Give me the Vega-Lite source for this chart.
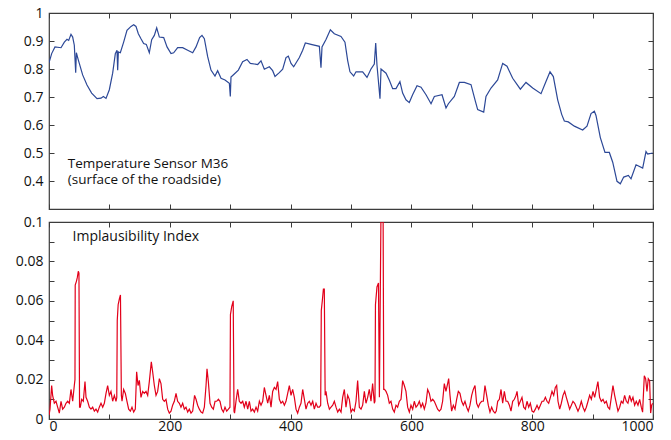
{
  "$schema": "https://vega.github.io/schema/vega-lite/v6.json",
  "padding": {"left": 14, "top": 5, "right": 5, "bottom": 5},
  "background": "white",
  "config": {
    "view": {"stroke": "#3c3c3c", "strokeWidth": 1.2},
    "font": "Open Sans",
    "axis": {"domain": false, "grid": false, "tickSize": -5, "tickColor": "#3c3c3c", "tickWidth": 1, "labelFont": "Open Sans", "labelFontSize": 14, "labelColor": "#111111", "title": null}
  },
  "datasets": {
    "temp": [
      {"t":0,"v":0.822},{"t":4.4,"v":0.855},{"t":9.9,"v":0.879},{"t":19.9,"v":0.876},{"t":25.4,"v":0.896},{"t":29.8,"v":0.906},{"t":32.6,"v":0.902},{"t":36.4,"v":0.924},{"t":39.2,"v":0.914},{"t":41.9,"v":0.885},{"t":44.2,"v":0.787},{"t":45.3,"v":0.858},{"t":48.6,"v":0.832},{"t":55.7,"v":0.779},{"t":62.9,"v":0.743},{"t":70.6,"v":0.714},{"t":79.5,"v":0.694},{"t":86.1,"v":0.696},{"t":90,"v":0.702},{"t":94.4,"v":0.695},{"t":99.9,"v":0.726},{"t":105.4,"v":0.785},{"t":109.8,"v":0.855},{"t":112.6,"v":0.867},{"t":113.7,"v":0.796},{"t":114.8,"v":0.861},{"t":118.1,"v":0.858},{"t":123.6,"v":0.896},{"t":129.1,"v":0.938},{"t":135.8,"v":0.952},{"t":140.2,"v":0.958},{"t":144,"v":0.952},{"t":147.9,"v":0.926},{"t":152.3,"v":0.908},{"t":156.7,"v":0.891},{"t":161.1,"v":0.888},{"t":166.1,"v":0.858},{"t":170,"v":0.905},{"t":174.4,"v":0.92},{"t":178.3,"v":0.947},{"t":182.7,"v":0.914},{"t":189.9,"v":0.912},{"t":195.4,"v":0.879},{"t":202,"v":0.855},{"t":206.4,"v":0.858},{"t":213,"v":0.876},{"t":221.3,"v":0.876},{"t":229.6,"v":0.867},{"t":237.9,"v":0.858},{"t":243.4,"v":0.879},{"t":249.4,"v":0.912},{"t":253.3,"v":0.92},{"t":257.2,"v":0.908},{"t":262.7,"v":0.844},{"t":268.2,"v":0.796},{"t":274.8,"v":0.775},{"t":279.2,"v":0.794},{"t":284.8,"v":0.767},{"t":291.4,"v":0.761},{"t":298.6,"v":0.749},{"t":300.2,"v":0.702},{"t":301.3,"v":0.771},{"t":306.8,"v":0.782},{"t":313.5,"v":0.796},{"t":320.6,"v":0.826},{"t":327.8,"v":0.834},{"t":333.3,"v":0.82},{"t":345.5,"v":0.816},{"t":351,"v":0.829},{"t":356.5,"v":0.799},{"t":364.8,"v":0.808},{"t":370.3,"v":0.794},{"t":374.2,"v":0.773},{"t":381.3,"v":0.787},{"t":386.9,"v":0.799},{"t":392.4,"v":0.841},{"t":396.2,"v":0.846},{"t":400.7,"v":0.82},{"t":405.1,"v":0.808},{"t":414.5,"v":0.841},{"t":420,"v":0.867},{"t":424.4,"v":0.893},{"t":433.8,"v":0.888},{"t":447.6,"v":0.881},{"t":450.3,"v":0.805},{"t":452,"v":0.879},{"t":458.6,"v":0.905},{"t":465.8,"v":0.94},{"t":472.4,"v":0.926},{"t":483.4,"v":0.916},{"t":490,"v":0.896},{"t":494.5,"v":0.83},{"t":498.3,"v":0.79},{"t":504.4,"v":0.775},{"t":508.3,"v":0.79},{"t":519.3,"v":0.79},{"t":526.5,"v":0.77},{"t":533.1,"v":0.8},{"t":538.6,"v":0.818},{"t":540.9,"v":0.893},{"t":543,"v":0.814},{"t":548,"v":0.694},{"t":549.7,"v":0.8},{"t":558,"v":0.785},{"t":563.5,"v":0.76},{"t":569,"v":0.73},{"t":574.5,"v":0.73},{"t":581,"v":0.755},{"t":585.5,"v":0.714},{"t":591,"v":0.69},{"t":596.5,"v":0.68},{"t":602,"v":0.708},{"t":609.3,"v":0.74},{"t":615.9,"v":0.735},{"t":624.2,"v":0.708},{"t":632.5,"v":0.676},{"t":638,"v":0.702},{"t":650.7,"v":0.708},{"t":657.3,"v":0.661},{"t":661.2,"v":0.676},{"t":671.1,"v":0.702},{"t":679.4,"v":0.752},{"t":687.7,"v":0.752},{"t":698.7,"v":0.744},{"t":705.3,"v":0.69},{"t":709.7,"v":0.655},{"t":719.7,"v":0.646},{"t":723.5,"v":0.702},{"t":731.8,"v":0.732},{"t":742.8,"v":0.761},{"t":751.1,"v":0.82},{"t":758.3,"v":0.81},{"t":767.7,"v":0.767},{"t":780.4,"v":0.728},{"t":789.7,"v":0.752},{"t":800.8,"v":0.732},{"t":814.6,"v":0.712},{"t":822.8,"v":0.755},{"t":829.5,"v":0.79},{"t":835,"v":0.773},{"t":842.2,"v":0.69},{"t":848.8,"v":0.638},{"t":853.2,"v":0.614},{"t":859.8,"v":0.611},{"t":869.8,"v":0.596},{"t":883.6,"v":0.582},{"t":890.7,"v":0.596},{"t":897.4,"v":0.641},{"t":902.9,"v":0.649},{"t":905.6,"v":0.634},{"t":912.8,"v":0.555},{"t":920.5,"v":0.502},{"t":927.7,"v":0.502},{"t":933.3,"v":0.467},{"t":940.4,"v":0.399},{"t":945.9,"v":0.39},{"t":951.5,"v":0.414},{"t":959.2,"v":0.42},{"t":963.6,"v":0.408},{"t":971.9,"v":0.458},{"t":982.9,"v":0.446},{"t":988.4,"v":0.505},{"t":991.2,"v":0.496},{"t":999.5,"v":0.5}
    ],
    "idx": [
      {"t":0,"v":0.002},{"t":1.7,"v":0.005},{"t":4.4,"v":0.017},{"t":6,"v":0.012},{"t":8.8,"v":0.008},{"t":11.6,"v":0.009},{"t":14.3,"v":0.006},{"t":17.1,"v":0.003},{"t":19.9,"v":0.009},{"t":22.6,"v":0.005},{"t":25.4,"v":0.006},{"t":28.1,"v":0.008},{"t":30.9,"v":0.009},{"t":33.7,"v":0.008},{"t":36.4,"v":0.015},{"t":39.2,"v":0.009},{"t":41.9,"v":0.017},{"t":43,"v":0.02},{"t":43.4,"v":0.068},{"t":45.5,"v":0.07},{"t":47,"v":0.072},{"t":48.5,"v":0.075},{"t":49.6,"v":0.074},{"t":50.6,"v":0.006},{"t":51.8,"v":0.006},{"t":54.1,"v":0.01},{"t":56.8,"v":0.009},{"t":59.6,"v":0.019},{"t":61.3,"v":0.011},{"t":64,"v":0.009},{"t":66.8,"v":0.006},{"t":69.5,"v":0.005},{"t":72.3,"v":0.006},{"t":75.1,"v":0.004},{"t":77.8,"v":0.005},{"t":80.6,"v":0.0035},{"t":83.3,"v":0.006},{"t":86.1,"v":0.008},{"t":88.9,"v":0.006},{"t":91.6,"v":0.008},{"t":94.4,"v":0.013},{"t":97.1,"v":0.017},{"t":99.9,"v":0.012},{"t":102.6,"v":0.014},{"t":105.4,"v":0.009},{"t":108.2,"v":0.012},{"t":110.9,"v":0.009},{"t":112.2,"v":0.011},{"t":113,"v":0.05},{"t":114.5,"v":0.058},{"t":116.5,"v":0.061},{"t":118.3,"v":0.063},{"t":119.8,"v":0.012},{"t":120.9,"v":0.009},{"t":123.6,"v":0.015},{"t":126.4,"v":0.013},{"t":129.1,"v":0.009},{"t":131.9,"v":0.005},{"t":134.7,"v":0.004},{"t":137.4,"v":0.006},{"t":140.2,"v":0.0035},{"t":142.9,"v":0.005},{"t":145.1,"v":0.024},{"t":147.4,"v":0.017},{"t":149.6,"v":0.0196},{"t":152.3,"v":0.011},{"t":155.1,"v":0.014},{"t":157.8,"v":0.013},{"t":160.6,"v":0.014},{"t":163.4,"v":0.012},{"t":166.1,"v":0.019},{"t":169.4,"v":0.029},{"t":171.6,"v":0.024},{"t":174.4,"v":0.017},{"t":177.2,"v":0.012},{"t":179.9,"v":0.014},{"t":182.7,"v":0.0205},{"t":185.4,"v":0.018},{"t":188.2,"v":0.01},{"t":190.9,"v":0.009},{"t":193.7,"v":0.01},{"t":196.5,"v":0.005},{"t":199.2,"v":0.003},{"t":202,"v":0.004},{"t":204.7,"v":0.007},{"t":207.5,"v":0.009},{"t":210.3,"v":0.013},{"t":213,"v":0.009},{"t":215.8,"v":0.008},{"t":218.5,"v":0.006},{"t":221.3,"v":0.008},{"t":224.1,"v":0.005},{"t":226.8,"v":0.006},{"t":229.6,"v":0.0035},{"t":232.3,"v":0.005},{"t":235.1,"v":0.003},{"t":237.9,"v":0.004},{"t":241,"v":0.012},{"t":243.4,"v":0.01},{"t":246.1,"v":0.007},{"t":248.9,"v":0.005},{"t":251.7,"v":0.0035},{"t":254.4,"v":0.003},{"t":257.2,"v":0.006},{"t":260,"v":0.017},{"t":261.6,"v":0.0255},{"t":263.8,"v":0.019},{"t":266.6,"v":0.008},{"t":269.3,"v":0.006},{"t":272.1,"v":0.005},{"t":274.9,"v":0.009},{"t":277.6,"v":0.009},{"t":280.4,"v":0.01},{"t":283.1,"v":0.009},{"t":285.9,"v":0.005},{"t":288.7,"v":0.0035},{"t":291.4,"v":0.006},{"t":294.2,"v":0.004},{"t":297,"v":0.005},{"t":299.6,"v":0.006},{"t":300.4,"v":0.053},{"t":302.5,"v":0.057},{"t":305,"v":0.06},{"t":306.3,"v":0.004},{"t":307.2,"v":0.003},{"t":309.6,"v":0.009},{"t":312.4,"v":0.015},{"t":315.1,"v":0.009},{"t":317.9,"v":0.008},{"t":320.7,"v":0.009},{"t":323.4,"v":0.006},{"t":326.2,"v":0.009},{"t":329,"v":0.005},{"t":331.7,"v":0.009},{"t":334.5,"v":0.004},{"t":337.2,"v":0.005},{"t":340,"v":0.0035},{"t":342.8,"v":0.006},{"t":345.5,"v":0.004},{"t":348.3,"v":0.009},{"t":351,"v":0.007},{"t":353.8,"v":0.009},{"t":356.5,"v":0.016},{"t":359.3,"v":0.012},{"t":362.1,"v":0.008},{"t":364.8,"v":0.012},{"t":367.6,"v":0.006},{"t":370.3,"v":0.014},{"t":373.1,"v":0.016},{"t":375.9,"v":0.015},{"t":378.6,"v":0.019},{"t":381.4,"v":0.01},{"t":384.1,"v":0.008},{"t":386.9,"v":0.009},{"t":389.7,"v":0.007},{"t":392.4,"v":0.009},{"t":395.2,"v":0.013},{"t":397.9,"v":0.017},{"t":400.7,"v":0.012},{"t":403.4,"v":0.015},{"t":406.2,"v":0.011},{"t":409,"v":0.005},{"t":411.7,"v":0.003},{"t":414.5,"v":0.006},{"t":417.2,"v":0.008},{"t":420,"v":0.015},{"t":422.8,"v":0.01},{"t":425.5,"v":0.005},{"t":428.3,"v":0.008},{"t":431,"v":0.009},{"t":433.8,"v":0.007},{"t":436.6,"v":0.009},{"t":439.3,"v":0.005},{"t":442.1,"v":0.008},{"t":444.8,"v":0.006},{"t":447.6,"v":0.006},{"t":449.8,"v":0.007},{"t":450.8,"v":0.055},{"t":452.5,"v":0.06},{"t":454.3,"v":0.066},{"t":455.8,"v":0.066},{"t":457.2,"v":0.012},{"t":458.6,"v":0.014},{"t":461.4,"v":0.008},{"t":464.2,"v":0.005},{"t":466.9,"v":0.006},{"t":469.7,"v":0.007},{"t":472.4,"v":0.009},{"t":475.2,"v":0.006},{"t":478,"v":0.0035},{"t":480.7,"v":0.005},{"t":483.5,"v":0.0035},{"t":486.2,"v":0.011},{"t":489,"v":0.015},{"t":491.7,"v":0.006},{"t":494.5,"v":0.012},{"t":497.2,"v":0.01},{"t":500,"v":0.0035},{"t":502.7,"v":0.005},{"t":505.5,"v":0.004},{"t":508.3,"v":0.009},{"t":511,"v":0.0195},{"t":513.8,"v":0.006},{"t":516.6,"v":0.005},{"t":519.3,"v":0.007},{"t":522.1,"v":0.014},{"t":524.8,"v":0.008},{"t":527.6,"v":0.011},{"t":530.3,"v":0.015},{"t":533.1,"v":0.009},{"t":535.8,"v":0.018},{"t":538.6,"v":0.008},{"t":539.7,"v":0.009},{"t":540.5,"v":0.058},{"t":543,"v":0.067},{"t":545.5,"v":0.069},{"t":547,"v":0.011},{"t":549.5,"v":0.1},{"t":553.2,"v":0.1},{"t":554.2,"v":0.015},{"t":555.5,"v":0.015},{"t":558,"v":0.014},{"t":560.7,"v":0.012},{"t":563.4,"v":0.008},{"t":566.2,"v":0.009},{"t":569,"v":0.005},{"t":571.7,"v":0.0035},{"t":574.5,"v":0.007},{"t":577.2,"v":0.006},{"t":580,"v":0.009},{"t":582.8,"v":0.01},{"t":585.5,"v":0.0195},{"t":588.3,"v":0.017},{"t":591,"v":0.014},{"t":593.8,"v":0.006},{"t":596.6,"v":0.0035},{"t":599.3,"v":0.007},{"t":602.1,"v":0.005},{"t":604.8,"v":0.009},{"t":607.6,"v":0.006},{"t":610.3,"v":0.007},{"t":613.1,"v":0.009},{"t":615.9,"v":0.006},{"t":618.6,"v":0.008},{"t":621.4,"v":0.005},{"t":624.1,"v":0.008},{"t":626.9,"v":0.015},{"t":629.7,"v":0.013},{"t":632.4,"v":0.009},{"t":635.2,"v":0.01},{"t":637.9,"v":0.009},{"t":640.7,"v":0.007},{"t":643.4,"v":0.005},{"t":646.2,"v":0.004},{"t":649,"v":0.005},{"t":651.7,"v":0.009},{"t":654.5,"v":0.018},{"t":657.2,"v":0.014},{"t":660,"v":0.018},{"t":661.7,"v":0.0205},{"t":663.9,"v":0.012},{"t":666.6,"v":0.004},{"t":669.4,"v":0.007},{"t":672.2,"v":0.005},{"t":674.9,"v":0.01},{"t":677.7,"v":0.014},{"t":680.4,"v":0.013},{"t":683.2,"v":0.009},{"t":686,"v":0.007},{"t":688.7,"v":0.009},{"t":691.5,"v":0.006},{"t":694.2,"v":0.004},{"t":697,"v":0.007},{"t":699.8,"v":0.012},{"t":702.5,"v":0.015},{"t":705.3,"v":0.017},{"t":708,"v":0.008},{"t":710.8,"v":0.006},{"t":713.5,"v":0.008},{"t":716.3,"v":0.009},{"t":719.1,"v":0.009},{"t":721.8,"v":0.017},{"t":724.6,"v":0.012},{"t":727.3,"v":0.007},{"t":730.1,"v":0.0035},{"t":732.9,"v":0.006},{"t":735.6,"v":0.004},{"t":738.4,"v":0.003},{"t":740.5,"v":0.004},{"t":742.9,"v":0.009},{"t":745.6,"v":0.01},{"t":748.4,"v":0.015},{"t":751.1,"v":0.008},{"t":753.9,"v":0.014},{"t":756.7,"v":0.009},{"t":759.4,"v":0.009},{"t":762.2,"v":0.007},{"t":764.9,"v":0.004},{"t":767.7,"v":0.009},{"t":770.5,"v":0.01},{"t":773.2,"v":0.012},{"t":774.9,"v":0.014},{"t":777.6,"v":0.007},{"t":780.4,"v":0.009},{"t":783.1,"v":0.011},{"t":785.9,"v":0.006},{"t":788.7,"v":0.005},{"t":791.4,"v":0.009},{"t":794.2,"v":0.006},{"t":796.9,"v":0.008},{"t":799.7,"v":0.004},{"t":802.5,"v":0.0035},{"t":805.2,"v":0.005},{"t":808,"v":0.007},{"t":810.7,"v":0.005},{"t":813.5,"v":0.007},{"t":816.3,"v":0.009},{"t":819,"v":0.009},{"t":821.8,"v":0.011},{"t":824.5,"v":0.009},{"t":827.3,"v":0.008},{"t":830.1,"v":0.011},{"t":832.8,"v":0.014},{"t":835.6,"v":0.012},{"t":838.3,"v":0.016},{"t":840.5,"v":0.017},{"t":842.7,"v":0.009},{"t":845.5,"v":0.005},{"t":848.2,"v":0.008},{"t":851,"v":0.012},{"t":853.8,"v":0.014},{"t":856.5,"v":0.011},{"t":859.3,"v":0.008},{"t":862,"v":0.005},{"t":864.8,"v":0.007},{"t":867.5,"v":0.009},{"t":870.3,"v":0.008},{"t":873.1,"v":0.006},{"t":875.8,"v":0.004},{"t":878.6,"v":0.006},{"t":881.3,"v":0.009},{"t":884.1,"v":0.006},{"t":886.9,"v":0.004},{"t":889.6,"v":0.006},{"t":892.4,"v":0.009},{"t":895.1,"v":0.012},{"t":897.9,"v":0.01},{"t":900.7,"v":0.014},{"t":903.4,"v":0.011},{"t":906.2,"v":0.015},{"t":908.8,"v":0.019},{"t":911.6,"v":0.011},{"t":914.4,"v":0.009},{"t":917.2,"v":0.01},{"t":919.9,"v":0.008},{"t":922.7,"v":0.009},{"t":925.4,"v":0.006},{"t":928.2,"v":0.005},{"t":931,"v":0.011},{"t":933.7,"v":0.017},{"t":936.5,"v":0.012},{"t":939.2,"v":0.008},{"t":942,"v":0.004},{"t":944.8,"v":0.006},{"t":947.5,"v":0.009},{"t":950.3,"v":0.008},{"t":953,"v":0.012},{"t":955.8,"v":0.009},{"t":958.5,"v":0.008},{"t":961.3,"v":0.012},{"t":964.1,"v":0.009},{"t":966.8,"v":0.011},{"t":969.6,"v":0.007},{"t":972.3,"v":0.009},{"t":975.1,"v":0.007},{"t":977.9,"v":0.01},{"t":980.6,"v":0.006},{"t":982.8,"v":0.0035},{"t":985.6,"v":0.022},{"t":987.8,"v":0.0205},{"t":990,"v":0.014},{"t":992.2,"v":0.0205},{"t":994.4,"v":0.0195},{"t":996.1,"v":0.003},{"t":997.8,"v":0.007},{"t":999.4,"v":0.008}
    ]
  },
  "spacing": 3,
  "vconcat": [
    {
      "width": 604,
      "height": 196,
      "layer": [
        {
          "data": {"name": "temp"},
          "mark": {"type": "line", "color": "#2c4897", "strokeWidth": 1.2, "clip": true},
          "encoding": {
            "x": {"field": "t", "type": "quantitative", "scale": {"domain": [0, 1000], "nice": false}, "axis": {"orient": "bottom", "values": [0,100,200,300,400,500,600,700,800,900,1000], "labels": false}},
            "y": {"field": "v", "type": "quantitative", "scale": {"domain": [0.3, 1], "nice": false, "zero": false}, "axis": {"orient": "left", "values": [0.4,0.5,0.6,0.7,0.8,0.9,1], "format": "~g", "labelPadding": 11}}
          }
        },
        {
          "data": {"values": [{"label": "Temperature Sensor M36"}]},
          "mark": {"type": "text", "align": "left", "baseline": "alphabetic", "fontSize": 13.5, "font": "Open Sans", "color": "#111111"},
          "encoding": {
            "x": {"datum": 31, "type": "quantitative", "axis": {"orient": "top", "values": [0,100,200,300,400,500,600,700,800,900,1000], "labels": false}},
            "y": {"datum": 0.448, "type": "quantitative", "axis": {"orient": "right", "values": [0.4,0.5,0.6,0.7,0.8,0.9,1], "labels": false}},
            "text": {"field": "label"}
          }
        },
        {
          "data": {"values": [{"label": "(surface of the roadside)"}]},
          "mark": {"type": "text", "align": "left", "baseline": "alphabetic", "fontSize": 13.5, "font": "Open Sans", "color": "#111111"},
          "encoding": {
            "x": {"datum": 31, "type": "quantitative", "axis": null},
            "y": {"datum": 0.388, "type": "quantitative", "axis": null},
            "text": {"field": "label"}
          }
        }
      ],
      "resolve": {"axis": {"x": "independent", "y": "independent"}}
    },
    {
      "width": 604,
      "height": 197,
      "layer": [
        {
          "data": {"name": "idx"},
          "mark": {"type": "line", "color": "#e2001a", "strokeWidth": 1.2, "clip": true},
          "encoding": {
            "x": {"field": "t", "type": "quantitative", "scale": {"domain": [0, 1000], "nice": false}, "axis": {"orient": "bottom", "values": [0,100,200,300,400,500,600,700,800,900,1000], "labelExpr": "datum.value % 200 == 0 ? datum.label : ''", "format": "d", "labelPadding": 5}},
            "y": {"field": "v", "type": "quantitative", "scale": {"domain": [0, 0.1], "nice": false}, "axis": {"orient": "left", "values": [0,0.01,0.02,0.03,0.04,0.05,0.06,0.07,0.08,0.09,0.1], "format": "~g", "labelExpr": "round(datum.value*100) % 2 == 0 ? datum.label : ''", "labelPadding": 11}}
          }
        },
        {
          "data": {"values": [{"label": "Implausibility Index"}]},
          "mark": {"type": "text", "align": "left", "baseline": "alphabetic", "fontSize": 14, "font": "Open Sans", "color": "#111111"},
          "encoding": {
            "x": {"datum": 39, "type": "quantitative", "axis": {"orient": "top", "values": [0,100,200,300,400,500,600,700,800,900,1000], "labels": false}},
            "y": {"datum": 0.0902, "type": "quantitative", "axis": {"orient": "right", "values": [0,0.01,0.02,0.03,0.04,0.05,0.06,0.07,0.08,0.09,0.1], "labels": false}},
            "text": {"field": "label"}
          }
        }
      ],
      "resolve": {"axis": {"x": "independent", "y": "independent"}}
    }
  ]
}
